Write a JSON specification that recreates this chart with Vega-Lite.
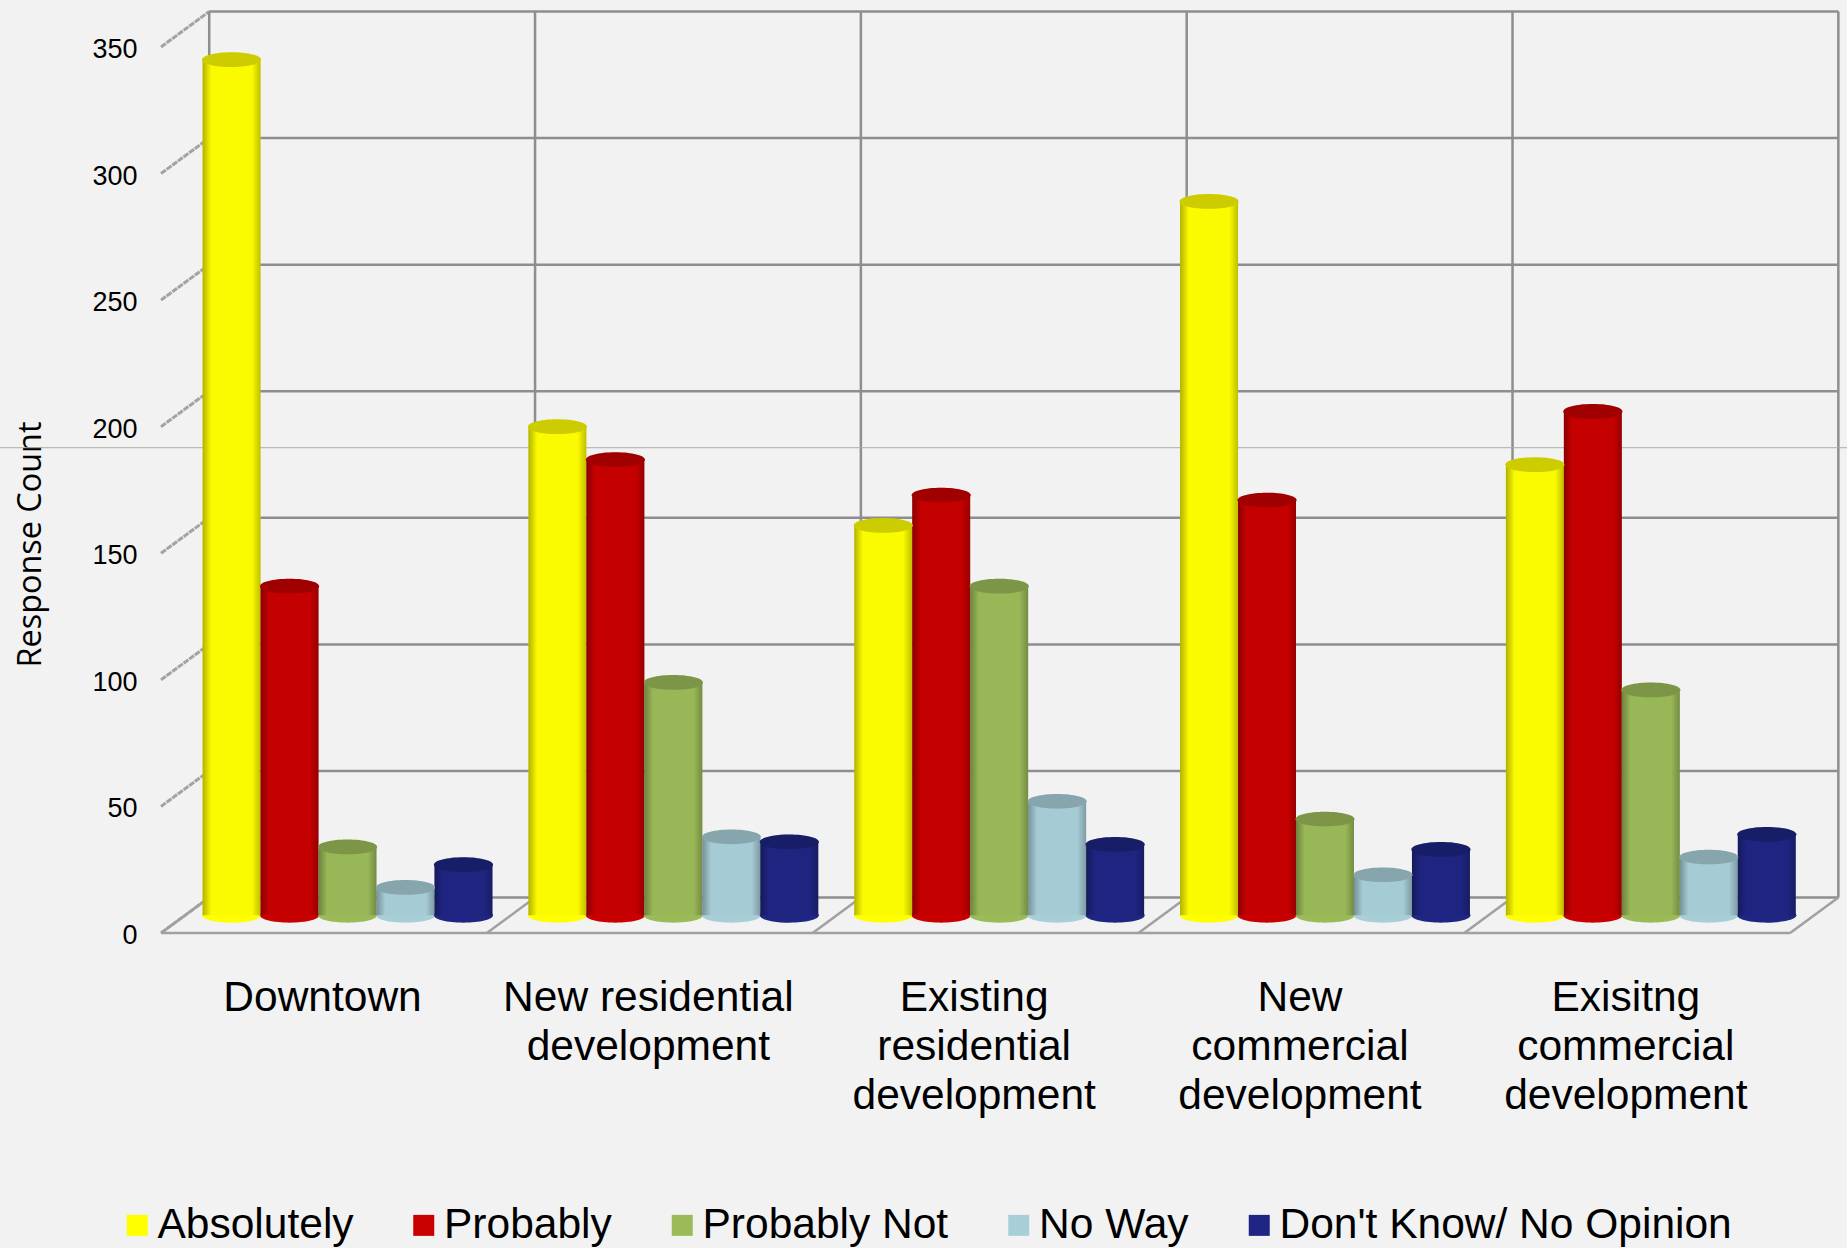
{
"$schema":"https://vega.github.io/schema/vega-lite/v6.json",
"width":1678,"height":924,
"autosize":"none",
"padding":{"left":161,"top":9,"right":8,"bottom":315},
"background":"#f2f2f2",
"view":{"stroke":null},
"config":{"view":{"stroke":null}},
"datasets":{
"counts":[
{"location":"Downtown","response":"Absolutely","count":338},
{"location":"Downtown","response":"Probably","count":130},
{"location":"Downtown","response":"Probably Not","count":27},
{"location":"Downtown","response":"No Way","count":11},
{"location":"Downtown","response":"Don't Know/ No Opinion","count":20},
{"location":"New residential development","response":"Absolutely","count":193},
{"location":"New residential development","response":"Probably","count":180},
{"location":"New residential development","response":"Probably Not","count":92},
{"location":"New residential development","response":"No Way","count":31},
{"location":"New residential development","response":"Don't Know/ No Opinion","count":29},
{"location":"Existing residential development","response":"Absolutely","count":154},
{"location":"Existing residential development","response":"Probably","count":166},
{"location":"Existing residential development","response":"Probably Not","count":130},
{"location":"Existing residential development","response":"No Way","count":45},
{"location":"Existing residential development","response":"Don't Know/ No Opinion","count":28},
{"location":"New commercial development","response":"Absolutely","count":282},
{"location":"New commercial development","response":"Probably","count":164},
{"location":"New commercial development","response":"Probably Not","count":38},
{"location":"New commercial development","response":"No Way","count":16},
{"location":"New commercial development","response":"Don't Know/ No Opinion","count":26},
{"location":"Exisitng commercial development","response":"Absolutely","count":178},
{"location":"Exisitng commercial development","response":"Probably","count":199},
{"location":"Exisitng commercial development","response":"Probably Not","count":89},
{"location":"Exisitng commercial development","response":"No Way","count":23},
{"location":"Exisitng commercial development","response":"Don't Know/ No Opinion","count":32}
],
"levels":[{"tick":0,"wall":14},{"tick":50,"wall":64},{"tick":100,"wall":114},{"tick":150,"wall":164},{"tick":200,"wall":214},{"tick":250,"wall":264},{"tick":300,"wall":314},{"tick":350,"wall":364}],
"columns":[{"front":0,"back":0.148},{"front":1,"back":1.148},{"front":2,"back":2.148},{"front":3,"back":3.148},{"front":4,"back":4.148},{"front":5,"back":5.148}]
},
"layer":[
{
"layer":[
{"data":{"name":"levels"},"mark":{"type":"rule","color":"#a3a3a3","strokeWidth":3,"strokeDash":[6,1],"clip":false},
 "encoding":{"x":{"datum":0,"type":"quantitative","scale":{"domain":[0,5.15],"nice":false,"zero":false},"axis":null},"x2":{"datum":0.148},
 "y":{"field":"tick","type":"quantitative","scale":{"domain":[0,365],"nice":false},"axis":{"values":[0,50,100,150,200,250,300,350],"domain":false,"ticks":false,"grid":false,"labelFont":"Liberation Sans","labelFontSize":27,"labelColor":"#000000","labelPadding":24,"labelOffset":2.5,"title":"Response Count","titleFont":"Open Sans","titleFontSize":32.4,"titleFontWeight":"normal","titleColor":"#000000","titleX":-131,"titleY":535,"titleBaseline":"middle"}},"y2":{"field":"wall"}}},
{"data":{"name":"levels"},"mark":{"type":"rule","color":"#8e8e8e","strokeWidth":2.5,"clip":false},
 "encoding":{"x":{"datum":0.148,"type":"quantitative"},"x2":{"datum":5.148},
 "y":{"field":"wall","type":"quantitative"}}},
{"data":{"name":"columns"},"mark":{"type":"rule","color":"#8e8e8e","strokeWidth":2.5,"clip":false},
 "encoding":{"x":{"field":"back","type":"quantitative"},"y":{"datum":14,"type":"quantitative"},"y2":{"datum":364}}},
{"data":{"name":"columns"},"mark":{"type":"rule","color":"#a0a0a0","strokeWidth":2.5,"clip":false},
 "encoding":{"x":{"field":"front","type":"quantitative"},"x2":{"field":"back"},"y":{"datum":0,"type":"quantitative"},"y2":{"datum":14}}},
{"data":{"values":[{"front":0,"end":5}]},"mark":{"type":"rule","color":"#a0a0a0","strokeWidth":2.5,"clip":false},
 "encoding":{"x":{"field":"front","type":"quantitative"},"x2":{"field":"end"},"y":{"datum":0,"type":"quantitative"}}},
{"data":{"values":[{"start":-0.5,"end":5.2}]},"mark":{"type":"rule","color":"#a9aea0","strokeWidth":1,"clip":false},
 "encoding":{"x":{"field":"start","type":"quantitative"},"x2":{"field":"end"},"y":{"datum":191.7,"type":"quantitative"}}}
]
},
{
"encoding":{
 "x":{"field":"location","type":"nominal","sort":null,"scale":{"domain":["Downtown","New residential development","Existing residential development","New commercial development","Exisitng commercial development"],"paddingInner":0,"paddingOuter":0.075,"align":0.483},
  "axis":{"title":null,"orient":"bottom","domain":false,"ticks":false,"grid":false,"labelAngle":0,"labelAlign":"center","labelBaseline":"top","labelFont":"Liberation Sans","labelFontSize":42.5,"labelColor":"#000000","labelLineHeight":49,"labelPadding":43,"labelOffset":-25,"labelLimit":0,"labelOverlap":false,"labelBound":false,"labelFlush":false,
   "labelExpr":"datum.label == 'New residential development' ? ['New residential','development'] : split(datum.label,' ')"}},
 "y":{"field":"count","type":"quantitative","axis":null,"scale":{"domain":[-7,358],"nice":false}}
},
"layer":[
{"data":{"name":"counts"},"mark":{"type":"point","filled":true,"opacity":1,"shape":"M-1,0 A1,0.25 0 1,1 1,0 A1,0.25 0 1,1 -1,0 Z","size":3500,"clip":false},
 "encoding":{"y":{"datum":0,"type":"quantitative"},
 "xOffset":{"field":"response","type":"nominal","sort":null,"scale":{"domain":["Absolutely","Probably","Probably Not","No Way","Don't Know/ No Opinion"],"paddingInner":0,"paddingOuter":0.31}},
 "color":{"field":"response","type":"nominal","scale":{"domain":["Absolutely","Probably","Probably Not","No Way","Don't Know/ No Opinion"],"range":["#ffff00","#c90000","#9bbb59","#a8cfd8","#1f2583"]},
  "legend":{"title":null,"orient":"none","legendX":-45,"legendY":1195,"direction":"horizontal","columns":5,"columnPadding":48.5,"symbolType":"square","symbolSize":441,"symbolStrokeWidth":0,"symbolOpacity":1,"labelFont":"Liberation Sans","labelFontSize":42.5,"labelColor":"#000000","labelLimit":700,"labelOffset":-1,"rowPadding":0}}}},
{"data":{"name":"counts"},"mark":{"type":"bar","clip":false},
 "encoding":{"xOffset":{"field":"response","type":"nominal","sort":null},"color":{"field":"response","type":"nominal"}}},
{"data":{"name":"counts"},"mark":{"type":"bar","clip":false,"fill":{"gradient":"linear","x1":0,"x2":1,"y1":0,"y2":0,"stops":[{"offset":0,"color":"rgba(0,0,0,0.3)"},{"offset":0.15,"color":"rgba(0,0,0,0.02)"},{"offset":0.85,"color":"rgba(0,0,0,0.02)"},{"offset":1,"color":"rgba(0,0,0,0.25)"}]}},
 "encoding":{"xOffset":{"field":"response","type":"nominal","sort":null}}},
{"data":{"name":"counts"},"mark":{"type":"point","filled":true,"opacity":1,"shape":"M-1,0 A1,0.25 0 1,1 1,0 A1,0.25 0 1,1 -1,0 Z","size":3500,"clip":false},
 "encoding":{"xOffset":{"field":"response","type":"nominal","sort":null},"color":{"field":"response","type":"nominal"}}},
{"data":{"name":"counts"},"mark":{"type":"point","filled":true,"color":"#000000","opacity":0.2,"shape":"M-1,0 A1,0.25 0 1,1 1,0 A1,0.25 0 1,1 -1,0 Z","size":3500,"clip":false},
 "encoding":{"xOffset":{"field":"response","type":"nominal","sort":null}}}
]
}
],
"resolve":{"scale":{"x":"independent","y":"independent"}}
}
